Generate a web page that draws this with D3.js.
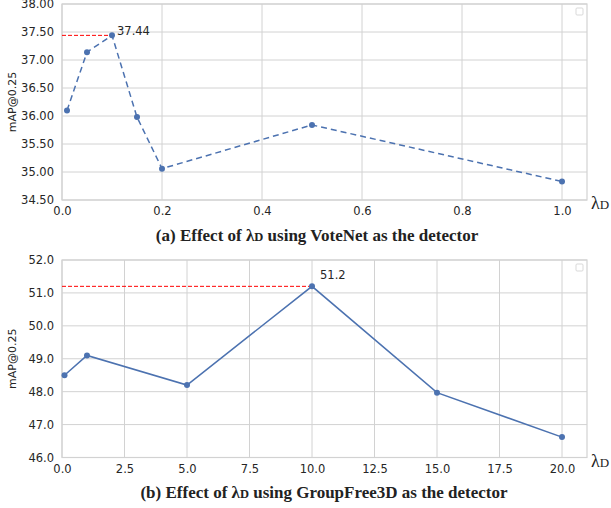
<!DOCTYPE html>
<html>
<head>
<meta charset="utf-8">
<script src="https://cdn.jsdelivr.net/npm/d3@7"></script>
<style>
  body { margin: 0; background: #fff; }
  svg { display: block; }
  .tick text { font-family: "DejaVu Sans", sans-serif; fill: #262626; }
</style>
</head>
<body>
<div id="main_area"></div>
<script>
// (a) VoteNet
var xA = [0.01, 0.05, 0.1, 0.15, 0.2, 0.5, 1.0];
var yA = [36.10, 37.14, 37.44, 35.98, 35.06, 35.84, 34.83];
var xTicksA = [0.0, 0.2, 0.4, 0.6, 0.8, 1.0];
var yTicksA = [34.5, 35.0, 35.5, 36.0, 36.5, 37.0, 37.5, 38.0];

// (b) GroupFree3D
var xB = [0.1, 1, 5, 10, 15, 20];
var yB = [48.5, 49.1, 48.2, 51.2, 47.97, 46.62];
var xTicksB = [0.0, 2.5, 5.0, 7.5, 10.0, 12.5, 15.0, 17.5, 20.0];
var yTicksB = [46, 47, 48, 49, 50, 51, 52];

var svg = d3.select("#main_area").append("svg")
    .attr("width", 611)
    .attr("height", 508);

var blue = "#4c72b0";
var grid = "#d2d2d2";

function drawPanel(opt) {
    var x = d3.scaleLinear().domain(opt.xDomain).range([62, 587]);
    var y = d3.scaleLinear().domain(opt.yDomain).range([opt.bottom, opt.top]);
    var g = svg.append("g");

    // 网格线
    g.append("g").selectAll("line").data(opt.xTicks).enter().append("line")
        .attr("x1", function (d) { return x(d); })
        .attr("x2", function (d) { return x(d); })
        .attr("y1", opt.top).attr("y2", opt.bottom)
        .attr("stroke", grid).attr("stroke-width", 1);
    g.append("g").selectAll("line").data(opt.yTicks).enter().append("line")
        .attr("x1", 62).attr("x2", 587)
        .attr("y1", function (d) { return y(d); })
        .attr("y2", function (d) { return y(d); })
        .attr("stroke", grid).attr("stroke-width", 1);

    // 边框
    g.append("rect")
        .attr("x", 62).attr("y", opt.top)
        .attr("width", 525).attr("height", opt.bottom - opt.top)
        .attr("fill", "none").attr("stroke", grid).attr("stroke-width", 1.2);

    // 坐标轴文字
    var xAxis = g.append("g")
        .attr("transform", "translate(0," + opt.bottom + ")")
        .call(d3.axisBottom(x).tickValues(opt.xTicks).tickFormat(d3.format(".1f")).tickSize(0).tickPadding(7));
    xAxis.select(".domain").remove();
    xAxis.selectAll("text").attr("font-size", 11.5);

    var yAxis = g.append("g")
        .attr("transform", "translate(62,0)")
        .call(d3.axisLeft(y).tickValues(opt.yTicks).tickFormat(d3.format(opt.yFmt)).tickSize(0).tickPadding(8));
    yAxis.select(".domain").remove();
    yAxis.selectAll("text").attr("font-size", 11.5);

    g.append("text")
        .attr("transform", "rotate(-90)")
        .attr("x", -(opt.top + opt.bottom) / 2)
        .attr("y", 16)
        .style("text-anchor", "middle")
        .attr("font-family", "DejaVu Sans, sans-serif")
        .attr("font-size", 11)
        .attr("fill", "#262626")
        .text("mAP@0.25");

    // 峰值参考线
    var peak = d3.maxIndex(opt.ys);
    g.append("line")
        .attr("x1", 62).attr("x2", x(opt.xs[peak]))
        .attr("y1", y(opt.ys[peak])).attr("y2", y(opt.ys[peak]))
        .attr("stroke", "#ff0000").attr("stroke-width", 1)
        .attr("stroke-dasharray", "4,2");

    var line = d3.line()
        .x(function (d, i) { return x(opt.xs[i]); })
        .y(function (d) { return y(d); });
    g.append("path")
        .datum(opt.ys)
        .attr("d", line)
        .attr("fill", "none")
        .attr("stroke", blue)
        .attr("stroke-width", 1.5)
        .attr("stroke-dasharray", opt.dash);

    g.selectAll("circle.pt").data(opt.ys).enter().append("circle")
        .attr("class", "pt")
        .attr("cx", function (d, i) { return x(opt.xs[i]); })
        .attr("cy", function (d) { return y(d); })
        .attr("r", 3)
        .attr("fill", blue);

    g.append("text")
        .attr("x", x(opt.xs[peak]) + opt.labDx)
        .attr("y", y(opt.ys[peak]) - opt.labDy)
        .attr("font-family", "DejaVu Sans, sans-serif")
        .attr("font-size", 11.5)
        .attr("fill", "#262626")
        .text(opt.label);

    // 图例小方块
    g.append("rect")
        .attr("x", 576).attr("y", opt.top + 4)
        .attr("width", 7).attr("height", 7)
        .attr("rx", 1)
        .attr("fill", "#fff").attr("stroke", "#cfcfcf").attr("stroke-width", 0.8);

    // λD
    var lam = g.append("text")
        .attr("x", 591).attr("y", opt.bottom + 9)
        .attr("font-family", "Liberation Serif, serif")
        .attr("font-size", 18)
        .attr("fill", "#222");
    lam.append("tspan").text("λ");
    lam.append("tspan").attr("font-size", 13).text("D");

    var cap = g.append("text")
        .attr("x", opt.capX).attr("y", opt.capY)
        .attr("text-anchor", "middle")
        .attr("font-family", "Liberation Serif, serif")
        .attr("font-weight", "bold")
        .attr("font-size", 17)
        .attr("fill", "#222");
    cap.append("tspan").text(opt.capPre + "λ");
    cap.append("tspan").attr("font-size", 12.5).text("D");
    cap.append("tspan").text(opt.capPost);
}

drawPanel({
    xs: xA, ys: yA, xTicks: xTicksA, yTicks: yTicksA,
    xDomain: [0, 1.05], yDomain: [34.5, 38.0],
    top: 4, bottom: 200, yFmt: ".2f", dash: "6,4",
    label: "37.44", labDx: 5, labDy: 0,
    capX: 317, capY: 241,
    capPre: "(a) Effect of ", capPost: " using VoteNet as the detector"
});

drawPanel({
    xs: xB, ys: yB, xTicks: xTicksB, yTicks: yTicksB,
    xDomain: [0, 21], yDomain: [46, 52],
    top: 260, bottom: 457.5, yFmt: ".1f", dash: null,
    label: "51.2", labDx: 8, labDy: 7,
    capX: 324, capY: 498,
    capPre: "(b) Effect of ", capPost: " using GroupFree3D as the detector"
});
</script>
</body>
</html>
